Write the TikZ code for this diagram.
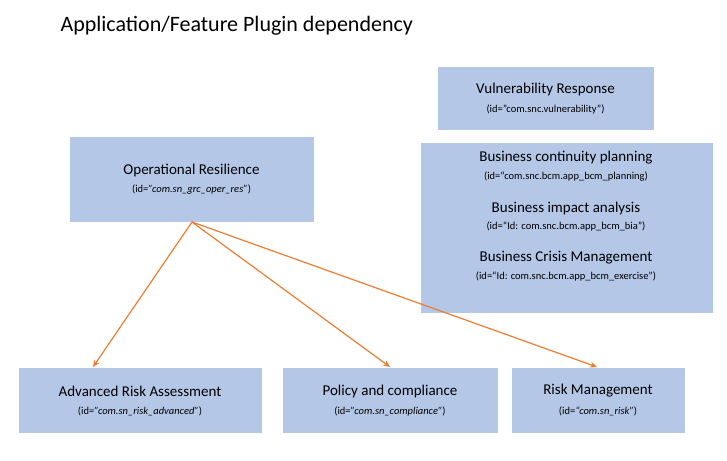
\documentclass[tikz,border=0pt]{standalone}
\usepackage{fontspec}
\setmainfont{Carlito}
\usetikzlibrary{arrows.meta}
\definecolor{boxc}{HTML}{B4C7E7}
\definecolor{arr}{HTML}{ED7D31}
\begin{document}
\begin{tikzpicture}[x=1pt,y=-1pt,
  box/.style={fill=boxc,draw=white,line width=0.8pt},
  hd/.style={font=\fontsize{15}{17}\selectfont,anchor=center},
  idt/.style={font=\fontsize{10.5}{12}\selectfont,anchor=center},
  con/.style={draw=arr,line width=1.2pt,-{Stealth[length=7pt,width=6pt]}}]
\useasboundingbox (0,0) rectangle (727,460);
\fill[white] (0,0) rectangle (727,460);
\node[anchor=west,font=\fontsize{22}{26}\selectfont] (title) at (57,26) {Application/Feature Plugin dependency};
\draw[box] (437,66) rectangle (654,130);
\node[hd] (vr) at (545.5,90) {Vulnerability Response};
\node[idt] (vrid) at (545.5,110) {(id="com.snc.vulnerability")};
\draw[box] (420,142) rectangle (713,313);
\node[hd] (bcp) at (566,158) {Business continuity planning};
\node[idt] (bcpid) at (566,177) {(id=“com.snc.bcm.app\_bcm\_planning)};
\node[hd] (bia) at (566,208) {Business impact analysis};
\node[idt] (biaid) at (566,227) {(id=“Id: com.snc.bcm.app\_bcm\_bia”)};
\node[hd] (bcm) at (566,258) {Business Crisis Management};
\node[idt] (bcmid) at (566,277) {(id=“Id: com.snc.bcm.app\_bcm\_exercise”)};
\draw[box] (69,136) rectangle (314,222);
\node[hd] (or) at (191.5,170) {Operational Resilience};
\node[idt] (orid) at (191.5,190) {(id=\textit{"com.sn\_grc\_oper\_res"})};
\coordinate (src) at (192,222);
\draw[box] (18,367) rectangle (262,433);
\node[hd] (ara) at (140,391) {Advanced Risk Assessment};
\node[idt] (araid) at (140,411) {(id=\textit{"com.sn\_risk\_advanced"})};
\coordinate (araT) at (93,367);
\draw[box] (282,367) rectangle (498,433);
\node[hd] (pc) at (390,391) {Policy and compliance};
\node[idt] (pcid) at (390,411) {(id=\textit{"com.sn\_compliance"})};
\coordinate (pcT) at (390,367);
\draw[box] (511,367) rectangle (685,433);
\node[hd] (rm) at (598,391) {Risk Management};
\node[idt] (rmid) at (598,411) {(id=\textit{“com.sn\_risk”})};
\coordinate (rmT) at (597,367);
\draw[con] (src) -- (araT);
\draw[con] (src) -- (pcT);
\draw[con] (src) -- (rmT);
\end{tikzpicture}
\end{document}
